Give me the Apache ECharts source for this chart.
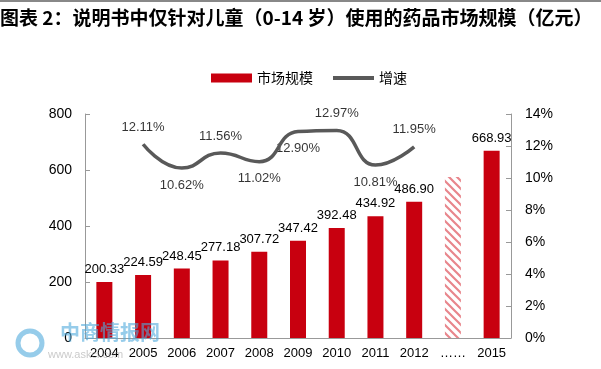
<!DOCTYPE html>
<html><head><meta charset="utf-8">
<script src="https://cdn.jsdelivr.net/npm/echarts@6/dist/echarts.min.js"></script>
<style>html,body{margin:0;padding:0;background:#fff}#c{width:601px;height:369px}</style>
</head><body><div id="c"></div>
<script>
var categories = ['2004','2005','2006','2007','2008','2009','2010','2011','2012','……','2015'];
var marketSize = [200.33,224.59,248.45,277.18,307.72,347.42,392.48,434.92,486.90,575,668.93];
var growth = [null,12.11,10.62,11.56,11.02,12.90,12.97,10.81,11.95,null,null];
var growthLabelPos = [null,'top','bottom','top','bottom','bottom','top','bottom','top',null,null];

var pc = document.createElement('canvas');
pc.width = 8; pc.height = 8;
var g = pc.getContext('2d');
g.fillStyle = '#fff'; g.fillRect(0,0,8,8);
g.strokeStyle = '#e8868c'; g.lineWidth = 2.2;
g.beginPath();
g.moveTo(-2,-2); g.lineTo(10,10);
g.moveTo(-2,6); g.lineTo(2,10);
g.moveTo(6,-2); g.lineTo(10,2);
g.stroke();

var barData = marketSize.map(function(v,i){
  if (categories[i] === '……') {
    return {value:v, itemStyle:{color:{image:pc, repeat:'repeat'}}, label:{show:false}};
  }
  return {value:v};
});
var labelData = growth.map(function(v,i){
  if (v === null) return null;
  return {value:v, label:{position:growthLabelPos[i]}};
});

var chart = echarts.init(document.getElementById('c'));
chart.setOption({
  animation:false,
  textStyle:{fontFamily:'Liberation Sans, Arial, sans-serif'},
  graphic:[
    {type:'rect', shape:{x:0,y:0,width:601,height:2}, style:{fill:'#888'}},
    {type:'text', left:0, top:8, style:{text:'图表 2：说明书中仅针对儿童（0-14 岁）使用的药品市场规模（亿元）', font:'bold 19px "Noto Sans CJK SC", sans-serif', fill:'#000'}},
    {type:'text', left:60, top:322, z:100, style:{text:'中商情报网', font:'bold 20px "Noto Sans CJK SC", sans-serif', fill:'rgba(80,170,220,0.6)'}},
    {type:'text', left:48, top:349, z:100, style:{text:'www.askci.com', font:'11px sans-serif', fill:'rgba(150,150,150,0.5)'}},
    {type:'circle', shape:{cx:30,cy:343,r:12}, z:100, style:{fill:'none', stroke:'rgba(80,170,220,0.6)', lineWidth:5}}
  ],
  legend:{
    top:66, left:206, itemGap:20, itemWidth:41, itemHeight:9,
    textStyle:{fontSize:14, color:'#000', fontFamily:'"Noto Sans CJK SC", sans-serif'},
    data:[{name:'市场规模', icon:'rect'},{name:'增速', icon:'path://M0,0 L41,0 L41,4 L0,4 Z', itemStyle:{color:'#595959'}}]
  },
  grid:{left:85, right:90, top:114, bottom:31},
  xAxis:{
    type:'category', data:categories, boundaryGap:true,
    axisLine:{lineStyle:{color:'#999'}},
    axisTick:{inside:true, length:5, lineStyle:{color:'#999'}},
    axisLabel:{color:'#000', fontSize:13, margin:9, interval:0}
  },
  yAxis:[
    {type:'value', min:0, max:800, interval:200,
     axisLine:{show:true, lineStyle:{color:'#999'}},
     axisTick:{show:true, inside:true, length:5, lineStyle:{color:'#999'}},
     splitLine:{show:false},
     axisLabel:{color:'#000', fontSize:14, margin:13}},
    {type:'value', min:0, max:14, interval:2, position:'right',
     axisLine:{show:true, lineStyle:{color:'#999'}},
     axisTick:{show:true, inside:true, length:5, lineStyle:{color:'#999'}},
     splitLine:{show:false},
     axisLabel:{color:'#000', fontSize:14, margin:14, formatter:'{value}%'}}
  ],
  series:[
    {name:'市场规模', type:'bar', data:barData, barWidth:16, itemStyle:{color:'#c8000f'},
     label:{show:true, position:'top', color:'#000', fontSize:13, distance:6,
       formatter:function(p){return p.value.toFixed(2);}}},
    {name:'增速', type:'line', yAxisIndex:1, data:growth, smooth:0.5, symbol:'none',
     lineStyle:{color:'#595959', width:3.5}, itemStyle:{color:'#595959'}, connectNulls:false},
    {name:'增速标签', type:'scatter', yAxisIndex:1, data:labelData, symbolSize:1,
     itemStyle:{color:'rgba(0,0,0,0)'}, silent:true,
     label:{show:true, color:'#000', fontSize:13, distance:10,
       formatter:function(p){return p.value.toFixed(2)+'%';}}}
  ]
});
</script></body></html>
